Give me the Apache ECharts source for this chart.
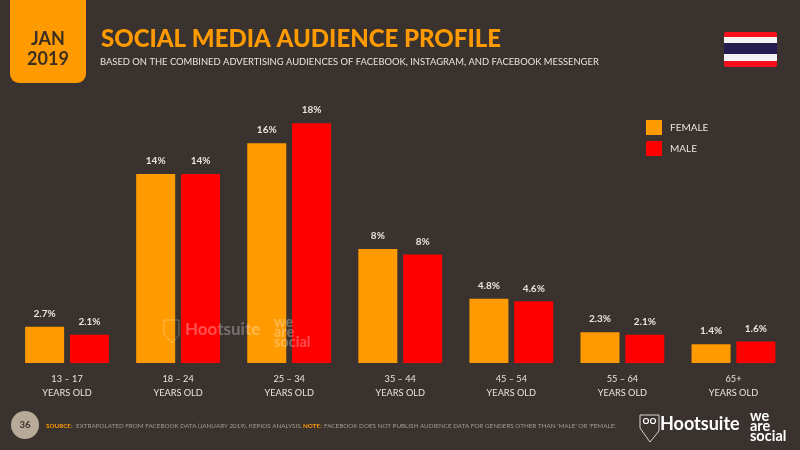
<!DOCTYPE html>
<html><head><meta charset="utf-8">
<style>html,body{margin:0;padding:0;background:#39322e}#c{width:800px;height:450px}</style>
<script src="https://cdn.jsdelivr.net/npm/echarts@6/dist/echarts.min.js"></script>
</head><body><div id="c"></div>
<script>
const ageRanges = ['13 – 17','18 – 24','25 – 34','35 – 44','45 – 54','55 – 64','65+'];
const femaleValues = [2.7,14.1,16.4,8.5,4.8,2.3,1.4];
const maleValues = [2.1,14.1,17.9,8.1,4.6,2.1,1.6];
const femaleLabels = ['2.7%','14%','16%','8%','4.8%','2.3%','1.4%'];
const maleLabels = ['2.1%','14%','18%','8%','4.6%','2.1%','1.6%'];
const ORANGE='#ff9a00', RED='#ff0000', BG='#39322e', FONT='Lato, "Open Sans", sans-serif';
const chart = echarts.init(document.getElementById('c'),null,{renderer:'canvas'});
const lab = arr => ({show:true,position:'top',distance:8,color:'#e8e4df',fontFamily:FONT,fontSize:10,fontWeight:'bold',
  formatter:p=>arr[p.dataIndex]});
const txt = (x,y,text,fill,size,weight)=>({type:'text',z:20,style:{x,y,text,fill,fontFamily:FONT,fontSize:size,fontWeight:weight||'normal',verticalAlign:'top'}});
const WM='rgba(255,255,255,0.3)';
chart.setOption({
  backgroundColor:BG,animation:false,
  grid:{left:11.5,right:11,top:95,bottom:87,containLabel:false},
  legend:{left:646,top:120,padding:0,orient:'vertical',itemWidth:16,itemHeight:15,itemGap:6,icon:'rect',
    textStyle:{color:'#e8e4df',fontFamily:FONT,fontSize:10,padding:[0,0,0,3]},data:['FEMALE','MALE']},
  xAxis:{type:'category',data:ageRanges,axisLine:{show:false},axisTick:{show:false},
    axisLabel:{color:'#e8e4df',fontFamily:FONT,fontSize:9.2,lineHeight:14,margin:9,interval:0,
      formatter:v=>v+'\nYEARS OLD'}},
  yAxis:{type:'value',min:0,max:20,show:false,splitLine:{show:false}},
  series:[
    {name:'FEMALE',type:'bar',data:femaleValues,barWidth:39,barGap:'15%',itemStyle:{color:ORANGE},label:lab(femaleLabels)},
    {name:'MALE',type:'bar',data:maleValues,barWidth:39,itemStyle:{color:RED},label:lab(maleLabels)}
  ],
  graphic:[
    {type:'rect',z:10,shape:{x:10,y:-12,width:76,height:95,r:9},style:{fill:ORANGE}},
    {type:'text',z:20,style:{x:48,y:39,text:'JAN',align:'center',verticalAlign:'middle',fill:'#3a2f20',fontFamily:FONT,fontSize:18,fontWeight:'bold'}},
    {type:'text',z:20,style:{x:48,y:59,text:'2019',align:'center',verticalAlign:'middle',fill:'#3a2f20',fontFamily:FONT,fontSize:18,fontWeight:'bold'}},
    txt(101,27,'SOCIAL MEDIA AUDIENCE PROFILE',ORANGE,24,'900'),
    txt(100,57,'BASED ON THE COMBINED ADVERTISING AUDIENCES OF FACEBOOK, INSTAGRAM, AND FACEBOOK MESSENGER','#e8e4df',9.4),
    {type:'rect',z:10,shape:{x:724,y:32,width:53,height:35,r:2},style:{fill:'#f80f1e'}},
    {type:'rect',z:11,shape:{x:724,y:37,width:53,height:24},style:{fill:'#f4f2f2'}},
    {type:'rect',z:12,shape:{x:724,y:43,width:53,height:11},style:{fill:'#241d4f'}},
    {type:'circle',z:10,shape:{cx:25,cy:425,r:14},style:{fill:'#b8aa98'}},
    {type:'text',z:20,style:{x:25,y:425,text:'36',align:'center',verticalAlign:'middle',fill:'#3a332e',fontFamily:FONT,fontSize:9.5,fontWeight:'bold'}},
    txt(46,423,'SOURCE:',ORANGE,6.3,'bold'),
    txt(76,423,'EXTRAPOLATED FROM FACEBOOK DATA (JANUARY 2019), KEPIOS ANALYSIS.','#a59c90',6.3),
    txt(303,423,'NOTE:',ORANGE,6.3,'bold'),
    txt(324,423,"FACEBOOK DOES NOT PUBLISH AUDIENCE DATA FOR GENDERS OTHER THAN 'MALE' OR 'FEMALE'.",'#a59c90',6.3),
    txt(660,415,'Hootsuite','#ffffff',18,'bold'),
    txt(750,409,'we','#ffffff',14.5,'bold'),
    txt(750,419,'are','#ffffff',14.5,'bold'),
    txt(750,429,'social','#ffffff',14.5,'bold'),
    {type:'polygon',z:20,shape:{points:[[640,415],[659,415],[659,431],[650,442],[640,428]]},style:{fill:'none',stroke:'#d8d4ce',lineWidth:1}},
    {type:'circle',z:20,shape:{cx:646,cy:421,r:2.5},style:{fill:'none',stroke:'#fff',lineWidth:1.2}},
    {type:'circle',z:20,shape:{cx:653,cy:421,r:2.5},style:{fill:'none',stroke:'#fff',lineWidth:1.2}},
    txt(185,321,'Hootsuite',WM,17,'bold'),
    {type:'polygon',z:20,shape:{points:[[164,320],[179,320],[179,335],[172,343],[164,334]]},style:{fill:'none',stroke:WM,lineWidth:1}},
    txt(274,315,'we',WM,14.5,'bold'),
    txt(274,325,'are',WM,14.5,'bold'),
    txt(274,335,'social',WM,14.5,'bold')
  ]
});
</script></body></html>
